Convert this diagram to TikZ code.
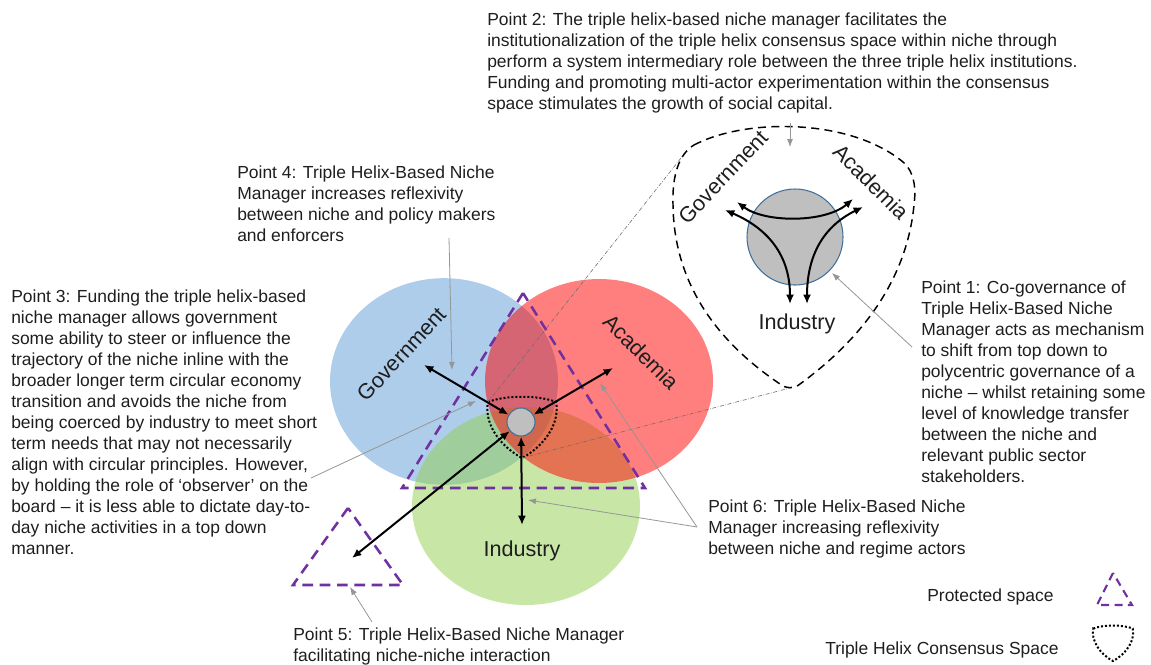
\documentclass[tikz,border=0pt]{standalone}
\usepackage{fontspec}
\setmainfont{Liberation Sans}
\usetikzlibrary{arrows.meta,shapes.geometric}

\definecolor{govblue}{RGB}{91,155,213}
\definecolor{acadred}{RGB}{255,0,0}
\definecolor{indgreen}{RGB}{146,208,80}
\definecolor{protpurple}{RGB}{112,48,160}
\definecolor{hubgrey}{RGB}{191,191,191}
\definecolor{hubedge}{RGB}{65,113,156}
\definecolor{leadgrey}{RGB}{150,150,150}
\definecolor{projgrey}{RGB}{110,110,110}
\definecolor{txt}{RGB}{30,30,30}

\tikzset{
  helixset/.style={ellipse, inner sep=0pt, fill opacity=0.5, minimum width=171pt},
  hub/.style={circle, fill=hubgrey, draw=hubedge, line width=0.8pt, inner sep=0pt},
  protected/.style={draw=protpurple, line width=1.9pt, dash pattern=on 8pt off 5pt, line join=miter},
  consensusline/.style={draw=black, line width=1.5pt, dash pattern=on 1.5pt off 1.5pt},
  insetline/.style={draw=black, line width=1.1pt, dash pattern=on 6pt off 4pt},
  twoway/.style={draw=black, line width=1.5pt, {Latex[length=7pt,width=6pt]}-{Latex[length=7pt,width=6pt]}},
  leader/.style={draw=leadgrey, line width=0.6pt, -{Latex[length=6pt,width=4.5pt]}},
  projection/.style={draw=projgrey, line width=0.45pt, dash pattern=on 3pt off 1.2pt on 0.5pt off 1.2pt},
  sector/.style={text=txt, inner sep=0pt, font=\fontsize{16.2}{19}\selectfont},
  note/.style={anchor=north west, inner sep=0pt, align=left, text=txt, font=\fontsize{13.1}{15.75}\selectfont},
  legendtext/.style={anchor=west, inner sep=0pt, text=txt, font=\fontsize{13.1}{15.75}\selectfont},
  consensus/.pic={
    \path[consensusline] (-34,-18) .. controls (-17,-25) and (17,-25) .. (34,-18)
      .. controls (38,2) and (24,25) .. (0,38)
      .. controls (-24,25) and (-38,2) .. cycle;
  }
}

\begin{document}
\begin{tikzpicture}[x=0.75pt,y=-0.75pt]
\path[use as bounding box] (0,0) rectangle (1151,664);

% the three helix institutions
\node[helixset, fill=govblue, minimum height=155pt] (gov) at (444,381.5) {};
\node[helixset, fill=indgreen, minimum height=148.5pt] (ind) at (526,506) {};
\node[helixset, fill=acadred, minimum height=153pt] (acad) at (599,381) {};

% protected spaces
\draw[protected] (523,293) -- (402,488) -- (645,488) -- cycle;
\draw[protected] (348,508) -- (293,585) -- (403,585) -- cycle;

% triple helix consensus space
\pic at (522,420) {consensus};
\coordinate (cA) at (488,402);
\coordinate (cC) at (522,458);

% niche manager and its links
\node[hub, minimum size=21pt] (hub) at (521,422) {};
\coordinate (govEnd) at (424,365);
\coordinate (acadEnd) at (613,368);
\coordinate (indEnd) at (522,525);
\coordinate (nicheEnd) at (352,558);
\draw[twoway] (hub) -- (govEnd);
\draw[twoway] (hub) -- (acadEnd);
\draw[twoway] (hub) -- (indEnd);
\draw[twoway] (hub) -- (nicheEnd);

% sector labels
\node[sector, rotate=47] (govLabel) at (402,354) {Government};
\node[sector, rotate=-45] (acadLabel) at (641,352) {Academia};
\node[sector] (indLabel) at (522,551) {Industry};

% enlarged view of the consensus space
\path[insetline] (694,145) .. controls (745,118) and (850,118) .. (903,162)
  .. controls (915,172) and (916,190) .. (914,205)
  .. controls (906,288) and (852,346) .. (800,384)
  .. controls (794,389) and (786,389) .. (780,384)
  .. controls (722,345) and (674,288) .. (673,205)
  .. controls (672,175) and (679,154) .. (694,145) -- cycle;
\coordinate (insetTL) at (681,158);
\coordinate (insetB) at (790,388);

\node[hub, minimum size=72pt] (ihub) at (795,237) {};
\coordinate (iTopL) at (737,202);
\coordinate (iTopR) at (853,199);
\coordinate (iLeftUp) at (725,210);
\coordinate (iLeftDown) at (790,304);
\coordinate (iRightUp) at (863,207);
\coordinate (iRightDown) at (807,304);
\draw[twoway] (iTopL) .. controls (765,223) and (825,223) .. (iTopR);
\draw[twoway] (iLeftUp) .. controls (762,226) and (790,250) .. (iLeftDown);
\draw[twoway] (iRightUp) .. controls (828,224) and (807,250) .. (iRightDown);

\node[sector, rotate=46.5] (igovLabel) at (723,177) {Government};
\node[sector, rotate=-45] (iacadLabel) at (871,182) {Academia};
\node[sector] (iindLabel) at (797,324) {Industry};

% projection lines to the enlarged view
\draw[projection] (cA) -- (insetTL);
\draw[projection] (cC) -- (insetB);

% annotations
\node[note] (p2) at (487,13) {Point 2: The triple helix-based niche manager facilitates the\\
institutionalization of the triple helix consensus space within niche through\\
perform a system intermediary role between the three triple helix institutions.\\
Funding and promoting multi-actor experimentation within the consensus\\
space stimulates the growth of social capital.};

\node[note] (p4) at (237,166) {Point 4: Triple Helix-Based Niche\\
Manager increases reflexivity\\
between niche and policy makers\\
and enforcers};

\node[note] (p3) at (11,290) {Point 3: Funding the triple helix-based\\
niche manager allows government\\
some ability to steer or influence the\\
trajectory of the niche inline with the\\
broader longer term circular economy\\
transition and avoids the niche from\\
being coerced by industry to meet short\\
term needs that may not necessarily\\
align with circular principles. However,\\
by holding the role of ‘observer’ on the\\
board – it is less able to dictate day-to-\\
day niche activities in a top down\\
manner.};

\node[note] (p1) at (921,281) {Point 1: Co-governance of\\
Triple Helix-Based Niche\\
Manager acts as mechanism\\
to shift from top down to\\
polycentric governance of a\\
niche – whilst retaining some\\
level of knowledge transfer\\
between the niche and\\
relevant public sector\\
stakeholders.};

\node[note] (p6) at (708,500) {Point 6: Triple Helix-Based Niche\\
Manager increasing reflexivity\\
between niche and regime actors};

\node[note] (p5) at (293,628) {Point 5: Triple Helix-Based Niche Manager\\
facilitating niche-niche interaction};

% leader arrows
\coordinate (p4from) at (449,238);
\coordinate (p4to) at (452,370);
\coordinate (p2from) at (790,123);
\coordinate (p2to) at (790,147);
\coordinate (p1from) at (912,347);
\coordinate (p1to) at (832,273);
\coordinate (p3from) at (311,478);
\coordinate (p3to) at (476,401);
\coordinate (p6from) at (697,527);
\coordinate (p6toA) at (600,383);
\coordinate (p6toB) at (528,500);
\coordinate (p5from) at (372,622);
\coordinate (p5to) at (350,587);
\draw[leader] (p4from) -- (p4to);
\draw[leader] (p2from) -- (p2to);
\draw[leader] (p1from) -- (p1to);
\draw[leader] (p3from) -- (p3to);
\draw[leader] (p6from) -- (p6toA);
\draw[leader] (p6from) -- (p6toB);
\draw[leader] (p5from) -- (p5to);

% legend
\node[legendtext] (legProt) at (927,597) {Protected space};
\draw[protected, line width=1.6pt, dash pattern=on 6pt off 4pt] (1113,573) -- (1097,605) -- (1132,605) -- cycle;
\node[legendtext] (legCons) at (825,650) {Triple Helix Consensus Space};
\pic[scale=0.58] at (1113,639) {consensus};

\end{tikzpicture}
\end{document}
